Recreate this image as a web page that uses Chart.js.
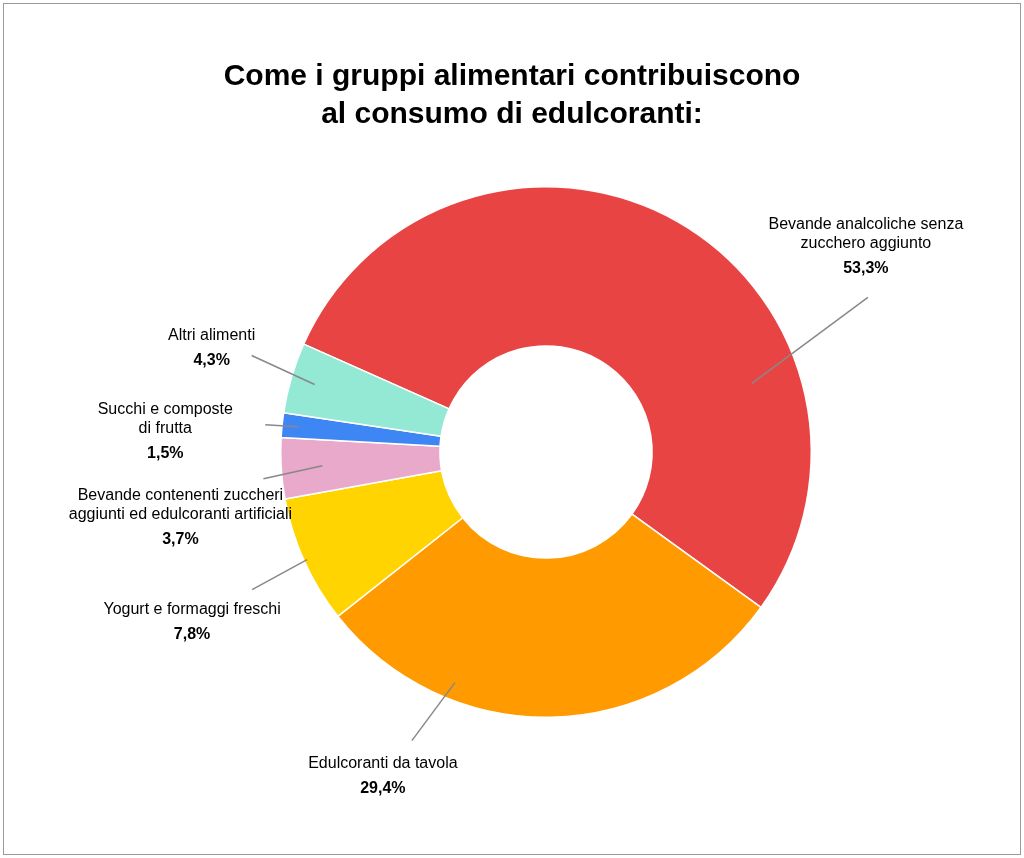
<!DOCTYPE html>
<html>
<head>
<meta charset="utf-8">
<script src="https://cdn.jsdelivr.net/npm/chart.js@4/dist/chart.umd.min.js"></script>
<style>
  html, body { margin: 0; padding: 0; background: #fff; }
  .frame { position: absolute; left: 3px; top: 3px; width: 1016px; height: 850px; border: 1px solid #9a9a9a; }
  canvas { position: absolute; left: 0; top: 0; }
</style>
</head>
<body>
<div class="frame"></div>
<canvas class="js-chart" width="1024" height="858"></canvas>
<script>
const ctx = document.querySelector('.js-chart').getContext('2d');

const categories = [
    ['Bevande analcoliche senza', 'zucchero aggiunto'],
    ['Edulcoranti da tavola'],
    ['Yogurt e formaggi freschi'],
    ['Bevande contenenti zuccheri', 'aggiunti ed edulcoranti artificiali'],
    ['Succhi e composte', 'di frutta'],
    ['Altri alimenti']
];
const shares = [53.3, 29.4, 7.8, 3.7, 1.5, 4.3];
const colors = ['#E94444', '#FF9A00', '#FFD400', '#E8A9CB', '#3F86F5', '#93E9D4'];

// leader line: position inside slice (f), start radius, end offset, text offset from line end
const leaders = [
    { f: 0.717, r: 217, dx: 116, dy: -86, tx: -2, ty: -73 },
    { f: 0.715, r: 248, dx: -43, dy: 58, tx: -29, ty: 23 },
    { f: 0.5, r: 262, dx: -55, dy: 30, tx: -60, ty: 20 },
    { f: 0.5, r: 224, dx: -59, dy: 13, tx: -83, ty: 17 },
    { f: 0.5, r: 249, dx: -33, dy: -2, tx: -100, ty: -15 },
    { f: 0.5, r: 241, dx: -63, dy: -29, tx: -40, ty: -20 }
];

const labelPlugin = {
    id: 'labels',
    afterDraw(chart) {
        const c = chart.ctx;
        c.save();
        c.fillStyle = '#000';
        c.textAlign = 'center';
        c.textBaseline = 'middle';
        c.font = 'bold 30px "Liberation Sans", Arial, sans-serif';
        c.fillText('Come i gruppi alimentari contribuiscono', 512, 77);
        c.fillText('al consumo di edulcoranti:', 512, 115);

        chart.getDatasetMeta(0).data.forEach((arc, i) => {
            const L = leaders[i];
            const a = arc.startAngle + (arc.endAngle - arc.startAngle) * L.f;
            const sx = arc.x + Math.cos(a) * L.r;
            const sy = arc.y + Math.sin(a) * L.r;
            const ex = sx + L.dx, ey = sy + L.dy;
            c.strokeStyle = '#888';
            c.lineWidth = 1.5;
            c.beginPath();
            c.moveTo(sx, sy);
            c.lineTo(ex, ey);
            c.stroke();
            const tx = ex + L.tx;
            let ty = ey + L.ty;
            c.font = '16px "Liberation Sans", Arial, sans-serif';
            categories[i].forEach((line) => {
                c.fillText(line, tx, ty);
                ty += 19;
            });
            c.font = 'bold 16px "Liberation Sans", Arial, sans-serif';
            c.fillText(shares[i].toFixed(1).replace('.', ',') + '%', tx, ty + 6);
        });
        c.restore();
    }
};

new Chart(ctx, {
    type: 'doughnut',
    data: {
        labels: categories.map((l) => l.join(' ')),
        datasets: [{
            data: shares,
            backgroundColor: colors,
            borderColor: '#fff',
            borderWidth: 1.5
        }]
    },
    options: {
        responsive: false,
        animation: false,
        cutout: '40%',
        rotation: -66,
        layout: { padding: { top: 186, bottom: 140, left: 280, right: 212 } },
        plugins: { legend: { display: false }, tooltip: { enabled: false } }
    },
    plugins: [labelPlugin]
});
</script>
</body>
</html>
